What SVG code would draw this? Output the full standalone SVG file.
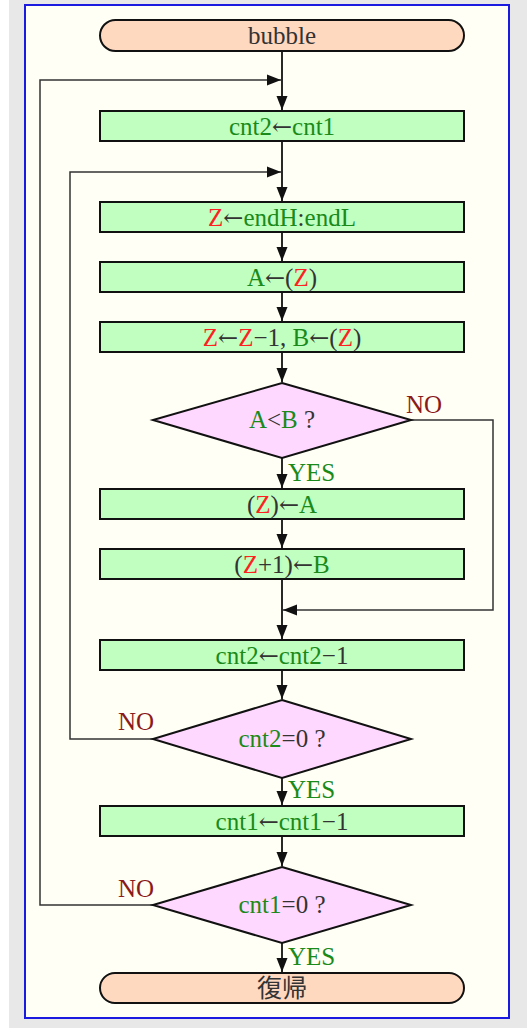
<svg xmlns="http://www.w3.org/2000/svg" width="527" height="1028" viewBox="0 0 527 1028">
<style>
text{font-family:"Liberation Serif","Noto Sans CJK JP",serif;font-size:25px;fill:#333;text-anchor:middle}
.a{font-family:"DejaVu Serif",serif;font-size:24px}
.g{fill:#1a8a1a}
.r{fill:#ff2020}
.no{fill:#8b1a1a;text-anchor:start}
.yes{fill:#1a8a1a;text-anchor:start}
.box{fill:#c0ffc0;stroke:#111;stroke-width:2}
.dia{fill:#ffd8ff;stroke:#111;stroke-width:2}
.term{fill:#ffd8c0;stroke:#111;stroke-width:2}
.ln{fill:none;stroke:#111;stroke-width:1.8}
.lp{fill:none;stroke:#333;stroke-width:1.5}
</style>
<defs>
<marker id="ah" markerUnits="userSpaceOnUse" markerWidth="14" markerHeight="12" refX="14" refY="6" orient="auto">
<path d="M0,0.5 L14,6 L0,11.5 z" fill="#111"/>
</marker>
</defs>
<rect x="0" y="0" width="527" height="1028" fill="#ffffff"/>
<rect x="9" y="0" width="518" height="1028" fill="#e8e8e8"/>
<rect x="25" y="5" width="484" height="1013" fill="#fffff5" stroke="#1a1ae0" stroke-width="2"/>

<g id="connectors">
<path class="ln" d="M282,51 V110" marker-end="url(#ah)"/>
<path class="lp" d="M153,905 H40 V80 H281" marker-end="url(#ah)"/>
<path class="ln" d="M282,141 V201" marker-end="url(#ah)"/>
<path class="lp" d="M153,739 H70 V172 H281" marker-end="url(#ah)"/>
<path class="ln" d="M282,232 V261" marker-end="url(#ah)"/>
<path class="ln" d="M282,292 V321" marker-end="url(#ah)"/>
<path class="ln" d="M282,352 V382" marker-end="url(#ah)"/>
<path class="ln" d="M282,458 V488" marker-end="url(#ah)"/>
<path class="ln" d="M282,519 V548" marker-end="url(#ah)"/>
<path class="ln" d="M282,579 V639" marker-end="url(#ah)"/>
<path class="lp" d="M411,420 H493 V610 H283" marker-end="url(#ah)"/>
<path class="ln" d="M282,670 V699" marker-end="url(#ah)"/>
<path class="ln" d="M282,778 V805" marker-end="url(#ah)"/>
<path class="ln" d="M282,836 V866" marker-end="url(#ah)"/>
<path class="ln" d="M282,943 V972" marker-end="url(#ah)"/>
<text class="no" x="406" y="413">NO</text>
<text class="yes" x="288" y="481">YES</text>
<text class="no" x="118" y="730">NO</text>
<text class="yes" x="288" y="798">YES</text>
<text class="no" x="118" y="897">NO</text>
<text class="yes" x="288" y="965">YES</text>
</g>

<g id="start">
<rect class="term" x="100" y="20" width="364" height="31" rx="15.5"/>
<text x="282" y="44">bubble</text>
</g>
<g id="n1">
<rect class="box" x="100" y="111" width="364" height="30"/>
<text x="282" y="135"><tspan class="g">cnt2</tspan><tspan class="a">←</tspan><tspan class="g">cnt1</tspan></text>
</g>
<g id="n2">
<rect class="box" x="100" y="202" width="364" height="30"/>
<text x="282" y="226"><tspan class="r">Z</tspan><tspan class="a">←</tspan><tspan class="g">endH</tspan>:<tspan class="g">endL</tspan></text>
</g>
<g id="n3">
<rect class="box" x="100" y="262" width="364" height="30"/>
<text x="282" y="286"><tspan class="g">A</tspan><tspan class="a">←</tspan>(<tspan class="r">Z</tspan>)</text>
</g>
<g id="n4">
<rect class="box" x="100" y="322" width="364" height="30"/>
<text x="282" y="346"><tspan class="r">Z</tspan><tspan class="a">←</tspan><tspan class="r">Z</tspan>−1, <tspan class="g">B</tspan><tspan class="a">←</tspan>(<tspan class="r">Z</tspan>)</text>
</g>
<g id="d1">
<polygon class="dia" points="282,383 411,420 282,458 153,420"/>
<text x="282" y="428"><tspan class="g">A</tspan>&lt;<tspan class="g">B</tspan> ?</text>
</g>
<g id="n5">
<rect class="box" x="100" y="489" width="364" height="30"/>
<text x="282" y="513">(<tspan class="r">Z</tspan>)<tspan class="a">←</tspan><tspan class="g">A</tspan></text>
</g>
<g id="n6">
<rect class="box" x="100" y="549" width="364" height="30"/>
<text x="282" y="573">(<tspan class="r">Z</tspan>+1)<tspan class="a">←</tspan><tspan class="g">B</tspan></text>
</g>
<g id="n7">
<rect class="box" x="100" y="640" width="364" height="30"/>
<text x="282" y="664"><tspan class="g">cnt2</tspan><tspan class="a">←</tspan><tspan class="g">cnt2</tspan>−1</text>
</g>
<g id="d2">
<polygon class="dia" points="282,700 411,739 282,778 153,739"/>
<text x="282" y="747"><tspan class="g">cnt2</tspan>=0 ?</text>
</g>
<g id="n8">
<rect class="box" x="100" y="806" width="364" height="30"/>
<text x="282" y="830"><tspan class="g">cnt1</tspan><tspan class="a">←</tspan><tspan class="g">cnt1</tspan>−1</text>
</g>
<g id="d3">
<polygon class="dia" points="282,867 411,905 282,943 153,905"/>
<text x="282" y="913"><tspan class="g">cnt1</tspan>=0 ?</text>
</g>
<g id="end">
<rect class="term" x="100" y="973" width="364" height="30" rx="15"/>
<text x="282" y="997">復帰</text>
</g>
</svg>
